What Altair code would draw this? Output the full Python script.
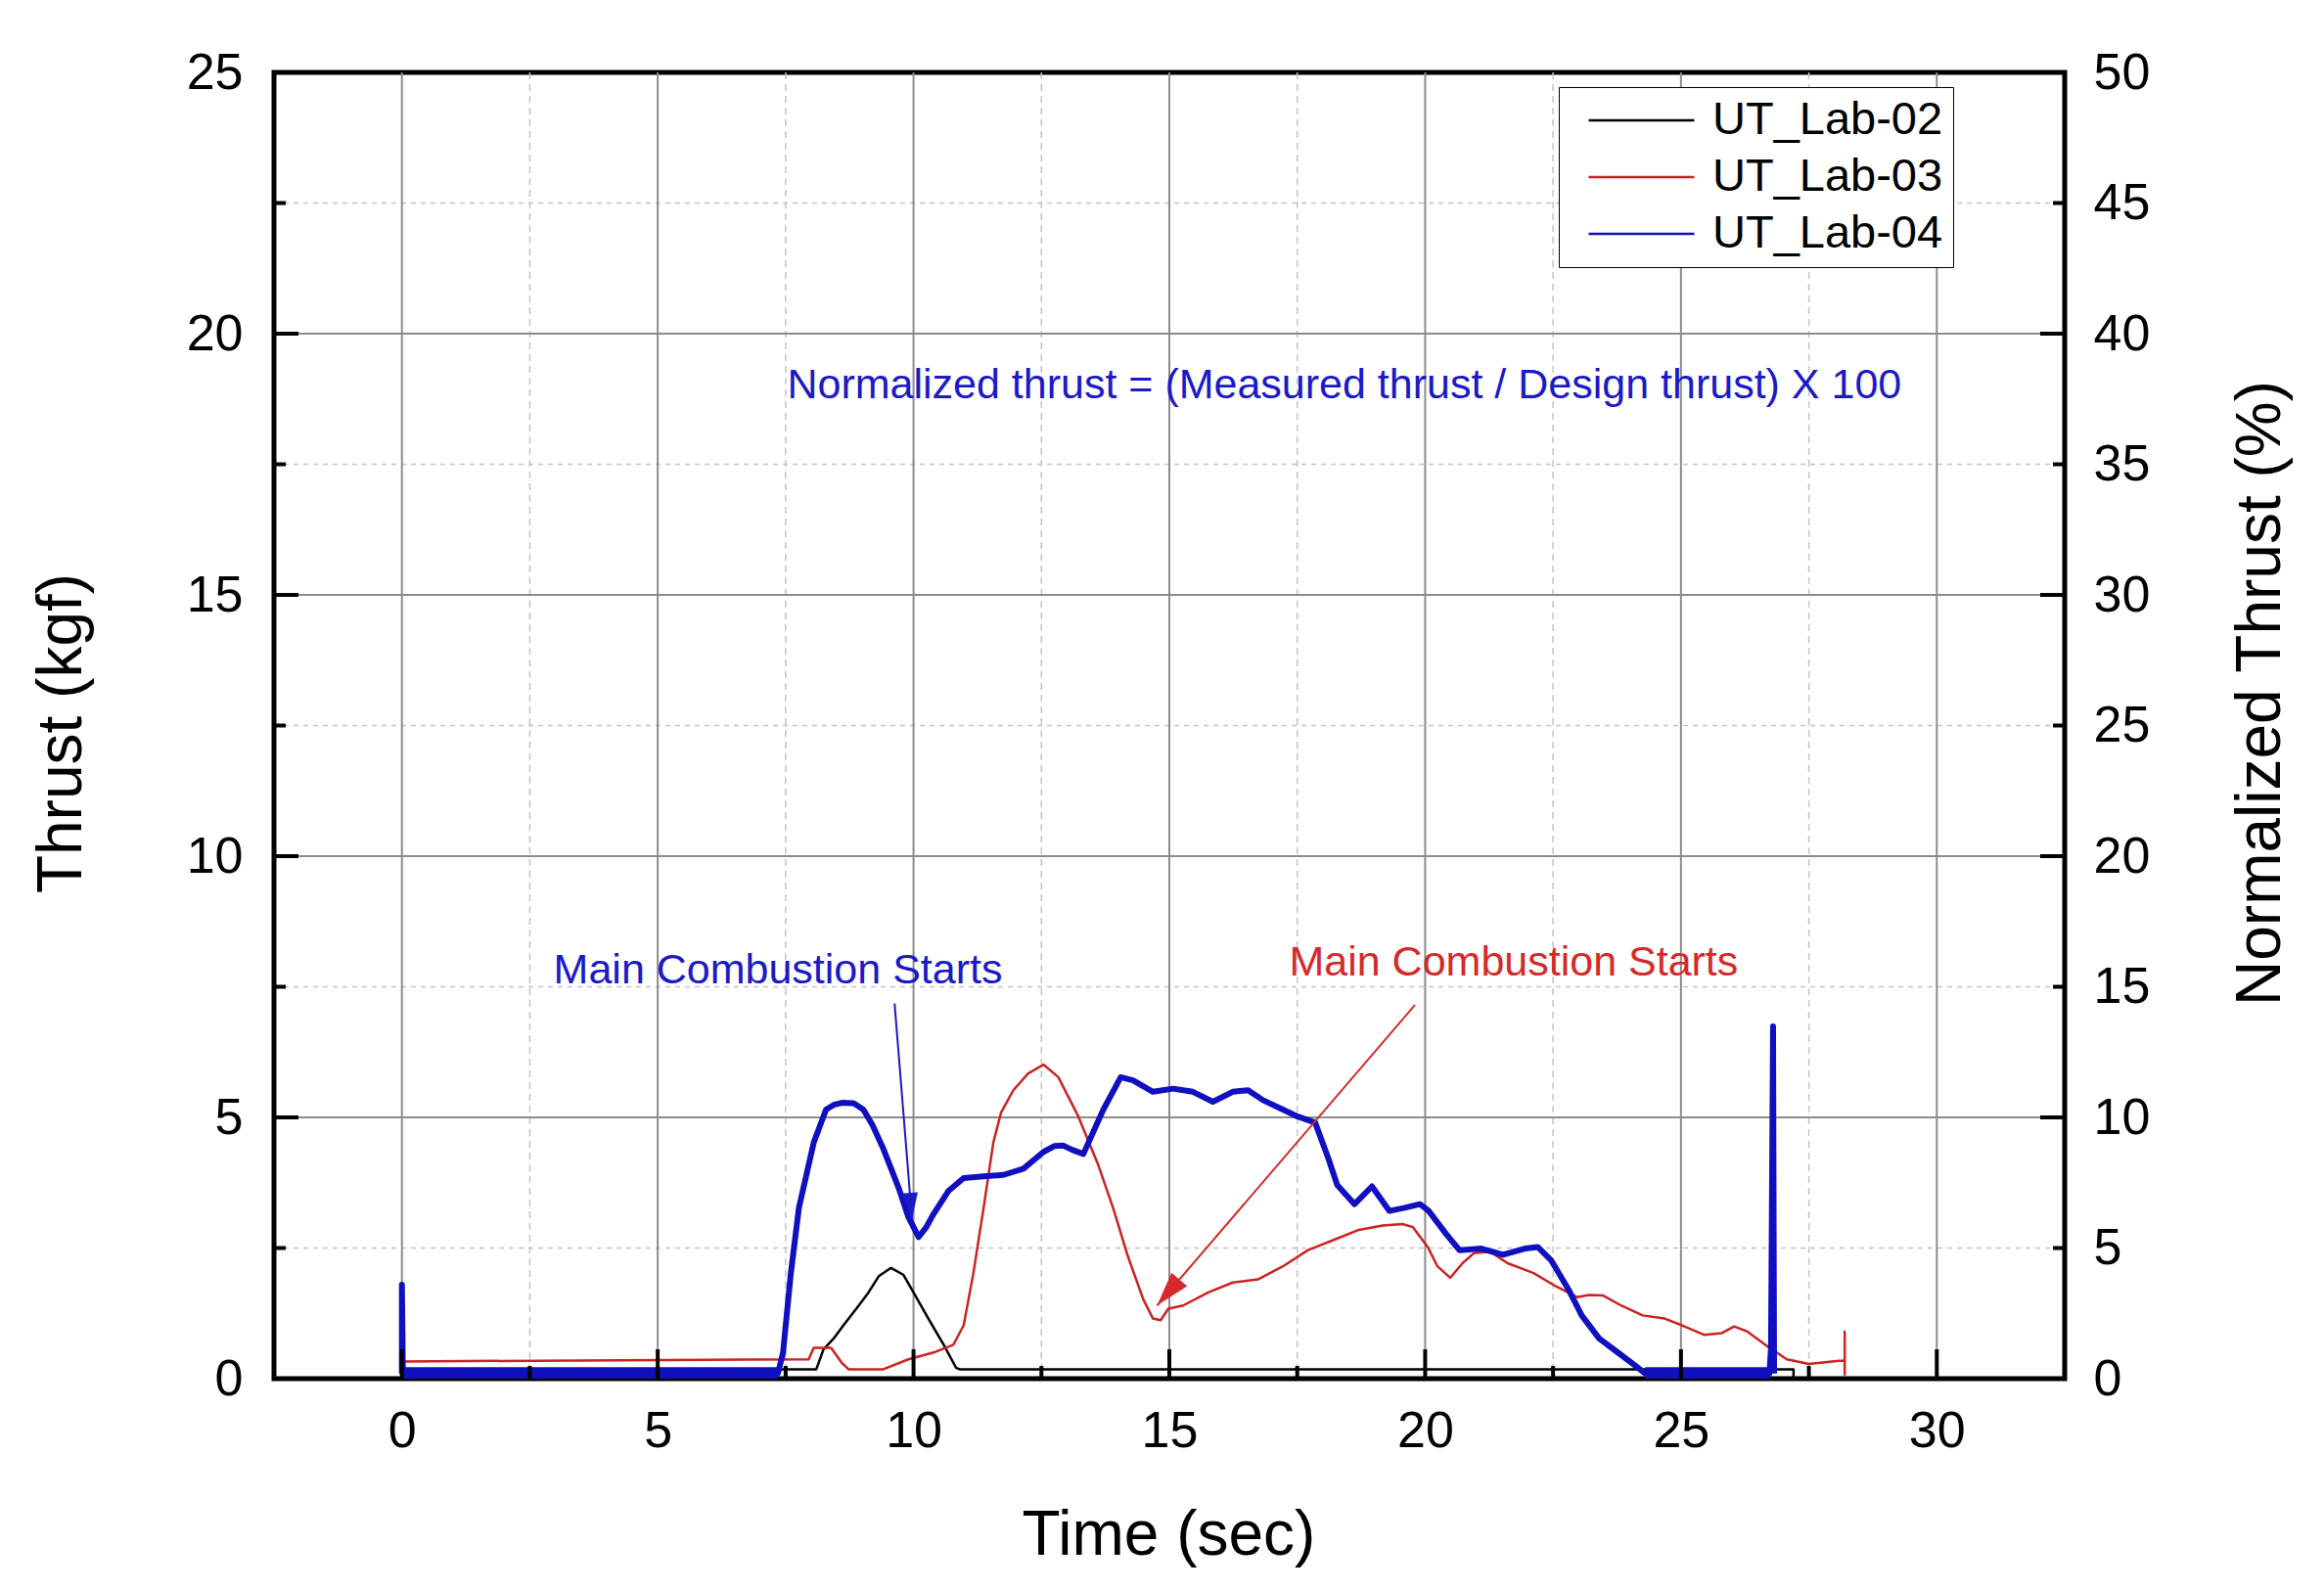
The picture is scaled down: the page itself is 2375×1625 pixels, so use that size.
import math
import altair as alt
import pandas as pd

FONT = "Liberation Sans, Arial, Helvetica, sans-serif"
W, H = 1830, 1335
X_DOM = [-2.5, 32.5]
Y_DOM = [0, 25]
Y2_DOM = [0, 50]

series_names = ["UT_Lab-02", "UT_Lab-03", "UT_Lab-04"]
series_colors = ["#000000", "#CC2222", "#1010C0"]

# UT_Lab-02 (black)
lab02_t = [0, 8.1, 8.24, 8.44, 8.63, 8.93, 9.12, 9.32, 9.56, 9.8, 10.0, 10.29, 10.59, 10.83, 10.9, 27.2, 27.2]
lab02_v = [0.18, 0.18, 0.56, 0.77, 1.02, 1.4, 1.65, 1.96, 2.12, 1.99, 1.65, 1.15, 0.65, 0.21, 0.18, 0.18, 0.0]

# UT_Lab-03 (red)
lab03_t = [0, 0, 7.95, 8.05, 8.39, 8.44, 8.6, 8.73, 9.41, 9.9, 10.39, 10.78, 10.98, 11.17, 11.37, 11.56,
           11.71, 11.95, 12.24, 12.54, 12.83, 13.22, 13.61, 13.9, 14.19, 14.49, 14.68, 14.83, 14.98, 15.27,
           15.76, 16.24, 16.73, 17.22, 17.71, 18.2, 18.68, 19.17, 19.56, 19.76, 20.05, 20.24, 20.49, 20.73,
           20.95, 21.27, 21.61, 22.12, 22.55, 22.97, 23.2, 23.48, 23.83, 24.25, 24.68, 25.02, 25.45, 25.79,
           26.04, 26.3, 26.73, 27.07, 27.5, 28.09, 28.2, 28.2, 28.2]
lab03_v = [0.5, 0.33, 0.37, 0.59, 0.59, 0.52, 0.3, 0.18, 0.18, 0.37, 0.5, 0.65, 1.02, 2.02, 3.27, 4.52,
           5.09, 5.52, 5.84, 6.01, 5.77, 5.02, 4.09, 3.27, 2.34, 1.52, 1.15, 1.12, 1.34, 1.4,
           1.65, 1.84, 1.9, 2.15, 2.46, 2.65, 2.84, 2.93, 2.96, 2.9, 2.52, 2.15, 1.93, 2.21,
           2.4, 2.43, 2.21, 2.02, 1.77, 1.56, 1.6, 1.59, 1.4, 1.21, 1.15, 1.02, 0.84, 0.87,
           1.0, 0.9, 0.59, 0.37, 0.28, 0.34, 0.34, 0.9, 0.06]

# UT_Lab-04 (blue)
lab04_t = [0, 0, 0.02, 7.35, 7.45, 7.6, 7.76, 8.05, 8.29, 8.44, 8.6, 8.83, 9.02, 9.2, 9.41, 9.71, 9.9,
           10.1, 10.25, 10.39, 10.68, 10.98, 11.37, 11.76, 12.15, 12.54, 12.75, 12.93, 13.1, 13.32, 13.71,
           14.05, 14.29, 14.68, 15.07, 15.46, 15.85, 16.24, 16.54, 16.83, 17.22, 17.5, 17.85, 18.11, 18.28,
           18.62, 18.96, 19.3, 19.6, 19.9, 20.07, 20.41, 20.67, 21.1, 21.52, 21.95, 22.2, 22.46, 22.8,
           23.06, 23.4, 23.74, 24.08, 24.3, 26.73, 26.76, 26.8, 26.82]
lab04_v = [0.1, 1.8, 0.1, 0.1, 0.5, 2.0, 3.27, 4.52, 5.15, 5.24, 5.28, 5.27, 5.15, 4.85, 4.4, 3.65, 3.09,
           2.71, 2.9, 3.15, 3.59, 3.84, 3.87, 3.9, 4.02, 4.34, 4.45, 4.46, 4.38, 4.3, 5.15,
           5.77, 5.71, 5.49, 5.55, 5.49, 5.3, 5.49, 5.52, 5.33, 5.15, 5.02, 4.9, 4.21, 3.71,
           3.34, 3.68, 3.21, 3.27, 3.34, 3.21, 2.77, 2.46, 2.49, 2.37, 2.49, 2.52, 2.27, 1.71,
           1.21, 0.77, 0.52, 0.27, 0.1, 0.1, 0.6, 6.74, 0.1]

# thick noisy baseline band of UT_Lab-04
band_seg = ["a", "a", "b", "b"]
band_t = [0, 7.35, 24.3, 26.75]
band_lo = [0, 0, 0, 0]
band_hi = [0.22, 0.22, 0.22, 0.22]

# grid / tick values
x_major = [0, 5, 10, 15, 20, 25, 30]
x_minor = [2.5, 7.5, 12.5, 17.5, 22.5, 27.5]
y_major = [0, 5, 10, 15, 20, 25]
y_minor = [2.5, 7.5, 12.5, 17.5, 22.5]
y_grid_major = [5, 10, 15, 20]
y2_values = [0, 5, 10, 15, 20, 25, 30, 35, 40, 45, 50]

# annotations
ann_text = ["Normalized thrust = (Measured thrust / Design thrust) X 100",
            "Main Combustion Starts", "Main Combustion Starts"]
ann_x = [18.42, 7.35, 21.73]
ann_y = [19.0, 7.8, 7.95]
ann_color = ["#1a1ac8", "#1a1ac8", "#d42a2a"]

arrow_x0 = [9.63, 19.8]
arrow_y0 = [7.18, 7.15]
arrow_x1 = [9.97, 14.76]
arrow_y1 = [3.05, 1.40]
arrow_color = ["#1a1ac8", "#d42a2a"]
arrow_size = [729, 1225]

# ---------------------------------------------------------------
rows = []
for name, ts, vs in zip(series_names, [lab02_t, lab03_t, lab04_t], [lab02_v, lab03_v, lab04_v]):
    for i, (t, v) in enumerate(zip(ts, vs)):
        rows.append({"series": name, "t": t, "v": v, "idx": i})
df = pd.DataFrame(rows)

px_x = W / (X_DOM[1] - X_DOM[0])
px_y = H / (Y_DOM[1] - Y_DOM[0])
angles = []
for x0, y0, x1, y1 in zip(arrow_x0, arrow_y0, arrow_x1, arrow_y1):
    dx = (x1 - x0) * px_x
    dy = (y0 - y1) * px_y
    angles.append(math.degrees(math.atan2(-dx, dy)) % 360)
arrows = pd.DataFrame({"x0": arrow_x0, "y0": arrow_y0, "x1": arrow_x1, "y1": arrow_y1,
                       "col": arrow_color, "ang": angles, "sz": arrow_size})
ann = pd.DataFrame({"x": ann_x, "y": ann_y, "text": ann_text, "col": ann_color})
band = pd.DataFrame({"seg": band_seg, "t": band_t, "lo": band_lo, "hi": band_hi})

xs = alt.Scale(domain=X_DOM, nice=False, zero=False)
ys = alt.Scale(domain=Y_DOM, nice=False, zero=False)

x_axis = alt.Axis(values=x_major, title="Time (sec)", grid=False, ticks=False, tickSize=0,
                  domain=False, labelFont=FONT, labelFontSize=52, labelColor="black",
                  labelPadding=28, titleFont=FONT, titleFontSize=64, titleFontWeight="normal",
                  titleColor="black", titleX=914, titleY=179, titleAlign="center",
                  titleBaseline="alphabetic")
y_axis = alt.Axis(values=y_major, title="Thrust (kgf)", grid=False, ticks=False, tickSize=0,
                  domain=False, labelFont=FONT, labelFontSize=52, labelColor="black",
                  labelPadding=32, titleFont=FONT, titleFontSize=64, titleFontWeight="normal",
                  titleColor="black", titleAngle=270, titleX=-217, titleY=675,
                  titleAlign="center", titleBaseline="middle")


def xe(field="t:Q"):
    return alt.X(field, scale=xs, axis=x_axis, title="Time (sec)")


def ye(field="v:Q"):
    return alt.Y(field, scale=ys, axis=y_axis, title="Thrust (kgf)")


grid_vmin = alt.Chart(pd.DataFrame({"t": x_minor})).mark_rule(
    color="#c4c4c4", strokeWidth=1.5, strokeDash=[7, 5]).encode(
    x=xe(), y=alt.value(0), y2=alt.value(H))
grid_hmin = alt.Chart(pd.DataFrame({"v": y_minor})).mark_rule(
    color="#c4c4c4", strokeWidth=1.5, strokeDash=[5, 5]).encode(
    y=ye(), x=alt.value(0), x2=alt.value(W))
grid_vmaj = alt.Chart(pd.DataFrame({"t": x_major})).mark_rule(
    color="#8c8c8c", strokeWidth=2).encode(
    x=xe(), y=alt.value(0), y2=alt.value(H))
grid_hmaj = alt.Chart(pd.DataFrame({"v": y_grid_major})).mark_rule(
    color="#8c8c8c", strokeWidth=2).encode(
    y=ye(), x=alt.value(0), x2=alt.value(W))

band_layer = alt.Chart(band).mark_area(color="#1010C0", opacity=1).encode(
    x=xe(), y=ye("lo:Q"), y2="hi:Q", detail="seg:N")

color_enc = alt.Color(
    "series:N",
    scale=alt.Scale(domain=series_names, range=series_colors),
    legend=alt.Legend(orient="none", legendX=1313, legendY=15, title=None,
                      symbolType="stroke", symbolSize=11664,
                      symbolStrokeWidth=2.5, clipHeight=48, rowPadding=10,
                      padding=10, symbolOffset=19, labelOffset=17, labelLimit=500,
                      labelFont=FONT, labelFontSize=47, labelColor="black",
                      strokeColor="black", fillColor="white",
                      cornerRadius=0, direction="vertical"))

thin_lines = alt.Chart(df).transform_filter(
    alt.FieldOneOfPredicate(field="series", oneOf=series_names[:2])
).mark_line(strokeJoin="round", strokeWidth=2.5).encode(
    x=xe(), y=ye(), color=color_enc, order="idx:Q")

blue_line = alt.Chart(df).transform_filter(
    alt.FieldEqualPredicate(field="series", equal=series_names[2])
).mark_line(strokeJoin="round", strokeWidth=6).encode(
    x=xe(), y=ye(), color=color_enc, order="idx:Q")

arrow_lines = alt.Chart(arrows).mark_rule(strokeWidth=2).encode(
    x=xe("x0:Q"), y=ye("y0:Q"), x2="x1:Q", y2="y1:Q",
    color=alt.Color("col:N", scale=None))
arrow_heads = alt.Chart(arrows).mark_point(
    shape="M0,0L-0.6,-2L0.6,-2Z", filled=True, opacity=1, strokeWidth=0).encode(
    x=xe("x1:Q"), y=ye("y1:Q"),
    angle=alt.Angle("ang:Q", scale=None),
    size=alt.Size("sz:Q", scale=None),
    color=alt.Color("col:N", scale=None))

texts = alt.Chart(ann).mark_text(font=FONT, fontSize=43, align="center", baseline="middle").encode(
    x=xe("x:Q"), y=ye("y:Q"), text="text:N", color=alt.Color("col:N", scale=None))


def yticks(vals, x0, x1):
    return alt.Chart(pd.DataFrame({"v": vals})).mark_rule(color="black", strokeWidth=4).encode(
        y=ye(), x=alt.value(x0), x2=alt.value(x1))


def xticks(vals, length):
    return alt.Chart(pd.DataFrame({"t": vals})).mark_rule(color="black", strokeWidth=4).encode(
        x=xe(), y=alt.value(H), y2=alt.value(H - length))


main = alt.layer(
    grid_vmin, grid_hmin, grid_vmaj, grid_hmaj,
    thin_lines, band_layer, blue_line, arrow_lines, arrow_heads, texts,
    yticks(y_major, 0, 25), yticks(y_minor, 0, 12),
    yticks(y_major, W, W - 25), yticks(y_minor, W, W - 12),
    xticks(x_major, 30), xticks(x_minor, 13),
)

right = alt.Chart(pd.DataFrame({"pct": y2_values})).mark_point(opacity=0).encode(
    x=alt.value(0),
    y=alt.Y("pct:Q", scale=alt.Scale(domain=Y2_DOM, nice=False, zero=False),
            axis=alt.Axis(orient="right", values=y2_values, title="Normalized Thrust (%)",
                          grid=False, ticks=False, tickSize=0, domain=False,
                          labelFont=FONT, labelFontSize=52, labelColor="black",
                          labelPadding=29, titleFont=FONT, titleFontSize=64,
                          titleFontWeight="normal", titleColor="black", titleAngle=270,
                          titleX=200, titleY=634, titleAlign="center",
                          titleBaseline="middle")),
)

chart = alt.layer(main, right).resolve_scale(y="independent").properties(
    width=W, height=H,
    padding={"left": 272, "top": 66, "right": 250, "bottom": 200},
    autosize=alt.AutoSizeParams(type="none"),
    background="white",
).configure_view(stroke="black", strokeWidth=5)

chart.save("out.html", embed_options={"renderer": "svg", "actions": False})
